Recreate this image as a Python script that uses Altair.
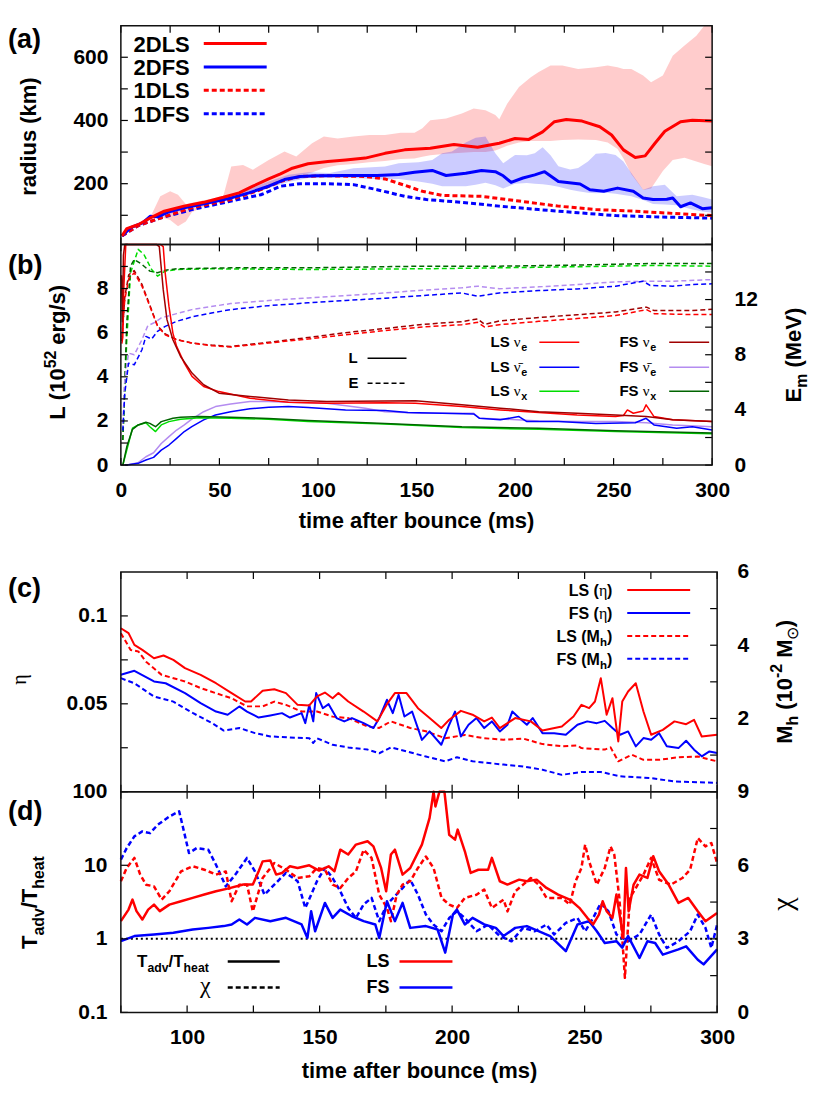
import altair as alt
import pandas as pd

# ---------------- panel (a): shock radius (km) ----------------
T_2DLS = [0.6, 3, 9, 15, 22, 32, 42, 52, 60, 67, 75, 81, 87, 95, 105, 114, 124, 134, 144, 157, 169, 181, 192, 200, 207, 214, 220, 226, 234, 243, 249, 255, 261, 266, 271, 276, 284, 290, 300]
R_2DLS = [35, 58, 71, 92, 113, 129, 141, 157, 171, 192, 215, 231, 249, 263, 270, 275, 281, 296, 307, 312, 324, 315, 328, 343, 340, 364, 396, 403, 398, 380, 354, 307, 283, 288, 328, 366, 396, 401, 398]
T_2DFS = [0.6, 5, 11, 15, 18.6, 24, 32, 44, 56, 65, 75, 83, 91, 99, 114, 130, 141, 149, 158, 165, 175, 183, 190, 194, 198, 204, 210, 215, 222, 233, 238, 245, 252, 260, 265, 270, 277, 280, 284, 289, 295, 300]
R_2DFS = [35, 61, 76, 97, 95, 110, 124, 139, 155, 171, 192, 213, 223, 225, 226, 226, 229, 236, 242, 226, 233, 242, 238, 225, 204, 218, 228, 238, 207, 199, 181, 176, 186, 176, 155, 150, 151, 155, 127, 139, 121, 124]
T_1DLS = [0.6, 9, 20.5, 36, 56, 71, 81, 91, 105, 124, 134, 144, 153, 163, 183, 202, 222, 241, 261, 280, 300]
R_1DLS = [35, 68, 92, 124, 150, 181, 207, 223, 225, 223, 215, 195, 176, 163, 160, 145, 129, 118, 113, 106, 99]
T_1DFS = [0.6, 9, 20.5, 36, 56, 71, 76, 81, 91, 105, 118, 130, 144, 155, 173, 192, 212, 232, 251, 271, 300]
R_1DFS = [35, 68, 92, 118, 145, 165, 178, 192, 200, 200, 197, 181, 160, 150, 141, 129, 118, 108, 99, 95, 91]
T_LSB = [15, 20, 25, 29, 33, 36, 46, 52, 56, 62, 67, 75, 83, 89, 97, 103, 110, 118, 126, 134, 142, 149, 153, 157, 165, 173, 179, 185, 190, 192, 196, 202, 208, 212, 218, 224, 232, 241, 247, 252, 255, 259, 265, 269, 275, 280, 286, 292, 296, 300]
HI_LSB = [95, 160, 176, 165, 135, 140, 152, 162, 254, 259, 244, 275, 302, 286, 328, 349, 343, 349, 354, 354, 361, 361, 375, 401, 406, 422, 438, 432, 417, 404, 453, 506, 537, 553, 574, 574, 563, 568, 574, 568, 563, 563, 542, 521, 542, 605, 637, 668, 700, 700]
LO_LSB = [88, 95, 85, 65, 80, 110, 138, 150, 157, 165, 180, 195, 215, 225, 235, 250, 258, 262, 268, 272, 278, 280, 285, 290, 295, 298, 300, 300, 305, 310, 320, 330, 335, 335, 335, 338, 340, 338, 330, 310, 280, 230, 180, 185, 240, 275, 282, 270, 262, 255]
T_FSB = [15, 25, 40, 55, 75, 85, 95, 106, 118, 134, 141, 151, 158, 163, 168, 175, 180, 185, 190, 194, 200, 206, 210, 214, 218, 222, 228, 232, 237, 241, 246, 251, 255, 259, 265, 270, 276, 282, 290, 295, 300]
HI_FSB = [97, 115, 140, 160, 207, 228, 236, 234, 249, 254, 265, 268, 275, 296, 302, 330, 345, 349, 296, 265, 291, 290, 296, 315, 290, 255, 245, 250, 270, 295, 297, 291, 270, 234, 181, 192, 197, 160, 165, 158, 150]
LO_FSB = [92, 105, 132, 150, 186, 205, 218, 218, 218, 213, 215, 207, 200, 192, 192, 192, 197, 203, 195, 185, 200, 202, 200, 198, 195, 190, 181, 176, 171, 170, 171, 168, 164, 160, 148, 136, 134, 132, 118, 112, 108]

# ---------------- panel (b): luminosities L and mean energies E ----------------
T_L_LSE = [0.5, 1, 1.5, 2.5, 20, 21.5, 22.5, 24.4, 26.4, 28.3, 32.2, 36.1, 42, 49.8, 65.5, 85, 104.5, 134, 149.5, 173, 192.5, 212, 231.5, 251, 255, 257, 260, 265, 266.5, 270.5, 280, 300]
L_LSE = [5.5, 5.8, 8.0, 13, 13, 9.9, 8.7, 7.2, 5.98, 5.38, 4.62, 4.02, 3.56, 3.33, 3.03, 2.85, 2.80, 2.83, 2.80, 2.65, 2.50, 2.38, 2.27, 2.20, 2.25, 2.50, 2.35, 2.45, 2.73, 2.20, 2.05, 1.97]
T_L_FSE = [0.3, 0.8, 1.3, 2, 18, 19.5, 21.5, 23.4, 26.4, 30.3, 36.1, 42, 49.8, 65.5, 85, 104.5, 134, 149.5, 173, 192.5, 212, 231.5, 251, 266.5, 280, 300]
L_FSE = [8.6, 6.5, 9.5, 13, 13, 9.9, 7.95, 6.59, 5.68, 4.92, 4.17, 3.64, 3.26, 3.11, 2.95, 2.88, 2.90, 2.92, 2.73, 2.58, 2.42, 2.35, 2.27, 2.20, 2.05, 1.97]
T_L_LSA = [2, 3, 8.8, 12.7, 16.6, 20.5, 24.4, 28.3, 32.2, 36, 42, 48, 55.7, 65.5, 75, 85, 95, 104.5, 114, 134, 145.6, 163, 179, 182, 192.5, 202, 206, 222, 241, 261, 266.5, 270.5, 282, 290, 300]
L_LSA = [0, 0, 0.08, 0.23, 0.35, 0.68, 0.91, 1.21, 1.52, 1.74, 2.05, 2.27, 2.42, 2.55, 2.62, 2.65, 2.61, 2.55, 2.50, 2.47, 2.38, 2.35, 2.32, 2.12, 2.05, 2.20, 1.97, 1.97, 1.89, 1.92, 2.12, 1.82, 1.67, 1.74, 1.59]
T_L_FSA = [2, 3, 8.8, 12.7, 16.6, 20.5, 24.4, 28.3, 32.2, 36, 42, 48, 55.7, 65.5, 75, 85, 104.5, 124, 134, 153, 179, 182, 192.5, 212, 231.5, 251, 266.5, 280, 300]
L_FSA = [0, 0, 0.11, 0.38, 0.56, 0.98, 1.29, 1.59, 1.82, 2.08, 2.42, 2.65, 2.77, 2.88, 2.88, 2.85, 2.80, 2.58, 2.42, 2.35, 2.35, 2.12, 2.09, 2.00, 1.97, 1.97, 1.92, 1.82, 1.74]
T_L_LSX = [1, 3, 5.9, 8.8, 12.7, 14.7, 17.6, 20.5, 24.4, 30.3, 40, 55.7, 75, 95, 134, 173, 212, 251, 300]
L_LSX = [0, 0.68, 1.67, 1.82, 1.92, 1.74, 1.52, 1.82, 1.97, 2.08, 2.15, 2.12, 2.08, 1.97, 1.86, 1.70, 1.62, 1.52, 1.42]
T_L_FSX = [1, 3, 5.9, 8.8, 12.7, 14.7, 17.6, 20.5, 26.4, 30.3, 40, 55.7, 75, 95, 134, 173, 212, 251, 300]
L_FSX = [0, 0.83, 1.62, 1.82, 1.94, 1.89, 1.74, 1.97, 2.12, 2.17, 2.20, 2.17, 2.11, 2.02, 1.89, 1.74, 1.67, 1.56, 1.46]
T_E_E = [0.5, 2, 4, 6.8, 10.7, 14.7, 18.6, 22.5, 28.3, 36, 46, 55.7, 75, 95, 114, 134, 153, 173, 181, 184.6, 192, 212, 231.5, 251, 266.7, 270.6, 290, 300]
E_LSE = [9.3, 12.0, 13.5, 13.94, 12.97, 11.52, 10.06, 9.45, 9.09, 8.85, 8.65, 8.56, 8.85, 9.14, 9.45, 9.75, 10.01, 10.18, 10.35, 10.01, 10.18, 10.42, 10.62, 10.84, 11.27, 10.98, 10.91, 10.91]
E_FSE = [9.0, 12.2, 13.8, 14.1, 13.1, 11.6, 10.1, 9.5, 9.1, 8.85, 8.7, 8.6, 8.9, 9.25, 9.6, 9.9, 10.2, 10.4, 10.6, 10.2, 10.45, 10.7, 10.9, 11.1, 11.45, 11.2, 11.2, 11.3]
T_E_LSA = [1, 2, 3.9, 6.8, 10.7, 12.7, 15.6, 18.6, 22.5, 28.3, 36, 46, 55.7, 75, 95, 114, 134, 153, 173, 181, 192, 212, 231.5, 251, 265, 268.5, 280, 290, 300]
E_LSA = [2.5, 5.21, 7.39, 7.27, 8.36, 9.33, 9.14, 9.70, 10.06, 10.42, 10.74, 11.03, 11.27, 11.56, 11.76, 11.93, 12.10, 12.29, 12.48, 12.24, 12.48, 12.65, 12.77, 12.97, 13.33, 13.02, 12.97, 13.09, 13.14]
T_E_FSA = [1, 2, 3.9, 6.8, 10.7, 13.7, 16.6, 20.5, 28.3, 36, 55.7, 75, 95, 114, 134, 153, 173, 181, 192, 212, 231.5, 251, 266.7, 280, 300]
E_FSA = [3.0, 6.18, 8.12, 8.0, 9.09, 10.11, 10.30, 10.67, 10.98, 11.27, 11.71, 11.93, 12.12, 12.29, 12.48, 12.68, 12.85, 12.97, 12.78, 12.92, 13.09, 13.28, 13.33, 13.33, 13.45]
T_E_LSX = [1, 3, 4.9, 8.8, 11.7, 15.6, 18.6, 22.5, 28.3, 46, 95, 153, 192, 231.5, 270.6, 300]
E_LSX = [1.82, 9.09, 13.94, 15.64, 15.27, 14.18, 13.70, 14.06, 14.18, 14.23, 14.18, 14.23, 14.30, 14.38, 14.47, 14.42]
T_E_FSX = [1, 3, 4.9, 6.8, 10.7, 14.7, 18.6, 22.5, 28.3, 55.7, 95, 153, 192, 231.5, 270.6, 300]
E_FSX = [1.82, 10.3, 14.42, 14.91, 14.55, 14.06, 13.94, 14.13, 14.23, 14.30, 14.30, 14.42, 14.42, 14.50, 14.62, 14.62]

# ---------------- panel (c): eta and M_h ----------------
T_ETA_LS = [75, 77.9, 80.1, 83.1, 87.5, 91.1, 94.8, 99.2, 105.1, 110.9, 116.8, 121.9, 124.1, 128.5, 132.9, 137.3, 141.7, 146.1, 149, 152, 154.9, 157.1, 160.8, 166.6, 171.8, 175.4, 178.4, 182.8, 187.1, 191.5, 195.9, 198.9, 203.3, 207.7, 212.1, 215, 218, 223.8, 229.7, 234.1, 241.4, 245.8, 248.8, 251.7, 253.9, 256.1, 258.3, 260.5, 262.7, 264.2, 266.4, 269.3, 272.2, 275.1, 279.5, 283.9, 288.3, 291.3, 294.2, 300]
ETA_LS = [0.0930, 0.0902, 0.0835, 0.0807, 0.0759, 0.0775, 0.0750, 0.0703, 0.0665, 0.0617, 0.0561, 0.0513, 0.0513, 0.0574, 0.0583, 0.0561, 0.0494, 0.0491, 0.0542, 0.0564, 0.0532, 0.0561, 0.0513, 0.0456, 0.0400, 0.0498, 0.0561, 0.0561, 0.0475, 0.0419, 0.0362, 0.0409, 0.0460, 0.0438, 0.0400, 0.0422, 0.0362, 0.0419, 0.0400, 0.0348, 0.0371, 0.0428, 0.0494, 0.0475, 0.0513, 0.0646, 0.0438, 0.0532, 0.0286, 0.0513, 0.0570, 0.0617, 0.0456, 0.0324, 0.0352, 0.0400, 0.0384, 0.0409, 0.0314, 0.0324]
T_ETA_FS = [75, 80.1, 87.5, 91.9, 99.2, 105.1, 110.9, 115.3, 119.7, 122.6, 127, 131.4, 135.8, 138.8, 143.2, 144.6, 146.1, 147.6, 148.7, 151.2, 153.4, 156.4, 159.3, 162.2, 166.6, 170.3, 172.5, 175.4, 177.6, 179.8, 182, 184.9, 188.6, 191.5, 195.9, 198.9, 201.1, 203.3, 206.2, 209.2, 212.1, 215, 218, 220.9, 222.7, 225.3, 228.2, 230.4, 234.1, 238.5, 242.9, 247.3, 251, 254.6, 257.6, 260.5, 263.4, 266.4, 269.3, 272.2, 275.1, 278.1, 281, 285.4, 288.3, 291.3, 294.2, 297.1, 300]
ETA_FS = [0.0665, 0.0688, 0.0627, 0.0617, 0.0561, 0.0504, 0.0456, 0.0438, 0.0485, 0.0456, 0.0422, 0.0434, 0.0447, 0.0422, 0.0447, 0.0390, 0.0494, 0.0400, 0.0561, 0.0475, 0.0498, 0.0419, 0.0400, 0.0419, 0.0390, 0.0362, 0.0419, 0.0523, 0.0447, 0.0551, 0.0428, 0.0456, 0.0295, 0.0343, 0.0267, 0.0381, 0.0456, 0.0314, 0.0381, 0.0419, 0.0362, 0.0400, 0.0343, 0.0381, 0.0456, 0.0419, 0.0381, 0.0419, 0.0333, 0.0333, 0.0324, 0.0381, 0.0400, 0.0390, 0.0403, 0.0362, 0.0324, 0.0343, 0.0258, 0.0305, 0.0295, 0.0333, 0.0258, 0.0248, 0.0290, 0.0239, 0.0201, 0.0229, 0.0220]
T_MH_LS = [75, 78.7, 81.6, 84.5, 90.4, 99.2, 105.1, 110.9, 116.8, 122.6, 128.5, 132.9, 137.3, 143.2, 149, 154.9, 160.8, 168.1, 172.5, 176.9, 184.2, 190.1, 197.4, 204.8, 212.1, 219.4, 226.8, 234.1, 241.4, 247.3, 248.8, 257.6, 259.8, 262.7, 267.8, 272.2, 278.1, 285.4, 292.7, 300]
MH_LS = [4.33, 3.87, 3.83, 3.55, 3.19, 3.01, 2.83, 2.69, 2.55, 2.33, 2.33, 2.46, 2.37, 2.19, 2.19, 2.05, 2.01, 1.78, 1.74, 1.92, 1.74, 1.65, 1.46, 1.55, 1.46, 1.42, 1.45, 1.30, 1.24, 1.26, 1.19, 1.15, 1.21, 0.83, 1.01, 0.87, 0.87, 0.94, 0.96, 0.83]
T_MH_FS = [75, 80.1, 87.5, 94.8, 102.1, 109.5, 113.8, 119.7, 125.6, 131.4, 138.8, 146.1, 147.6, 149, 154.9, 160.8, 168.1, 172.5, 176.9, 182.8, 190.1, 197.4, 201.8, 207.7, 219.4, 226.8, 234.1, 241.4, 248.8, 256.1, 263.4, 275.1, 283.9, 292.7, 300]
MH_FS = [3.10, 2.96, 2.60, 2.46, 2.15, 1.87, 1.67, 1.74, 1.60, 1.51, 1.48, 1.46, 1.33, 1.46, 1.28, 1.21, 1.15, 1.05, 1.21, 1.10, 0.96, 0.83, 0.94, 0.83, 0.74, 0.69, 0.60, 0.46, 0.54, 0.54, 0.42, 0.37, 0.28, 0.26, 0.24]

# ---------------- panel (d): T_adv/T_heat and chi ----------------
T_RT_LS = [75, 77.9, 79.4, 80.9, 83.1, 85.3, 87.5, 89.7, 93.3, 97.7, 102.1, 106.5, 110.9, 115.3, 121.2, 124.8, 127, 128.5, 131.4, 133.6, 135.8, 138.8, 141.7, 146.1, 149.8, 153.4, 155.6, 157.8, 160.8, 163.7, 168.1, 170.3, 173.2, 175.1, 176.9, 178.4, 181.3, 184.2, 188.6, 191.5, 193, 193.7, 195.2, 197.1, 198.9, 201.1, 202.1, 204.8, 207, 209.9, 213.6, 215, 218, 220.9, 225.3, 228.2, 231.9, 235.6, 240, 244.4, 248, 251, 253.2, 255.4, 256.8, 258.3, 260.5, 262, 263.4, 264.6, 265.6, 266.6, 268.5, 270.7, 273.7, 275.9, 278.1, 281.7, 285.4, 289.1, 292.7, 295.6, 300]
RT_LS = [1.74, 2.50, 3.42, 2.38, 1.83, 2.50, 2.92, 2.38, 2.92, 3.24, 3.60, 4.0, 4.44, 4.82, 5.47, 5.47, 8.3, 11.3, 11.6, 7.47, 7.87, 9.69, 9.2, 10.0, 8.47, 9.69, 8.3, 16.3, 14.0, 19.1, 21.2, 18.1, 9.2, 4.44, 14.0, 16.3, 7.47, 9.2, 19.1, 44, 130, 63, 130, 130, 26, 22.3, 30.5, 15.5, 7.87, 8.7, 8.7, 12.6, 6.07, 5.47, 6.38, 6.07, 6.38, 4.92, 4.0, 3.42, 2.64, 1.93, 1.57, 2.14, 3.24, 2.38, 1.93, 4.0, 1.93, 1.03, 9.2, 2.38, 5.47, 7.47, 6.73, 13.3, 8.3, 5.47, 3.08, 3.60, 2.38, 1.74, 2.25]
T_CHI_LS = [75, 77.2, 80.1, 82.3, 84.5, 87.5, 90.4, 93.3, 97.7, 102.1, 106.5, 110.9, 114.6, 116.8, 119.7, 122.6, 124.8, 128.5, 132.9, 137.3, 141.7, 146.1, 149, 152, 154.9, 157.8, 160.8, 163.7, 166.6, 169.6, 172.5, 175.4, 176.9, 179.1, 181.3, 184.2, 187.1, 190.1, 193, 196, 198.9, 201.8, 204.8, 209.2, 212.1, 215, 219.4, 220.9, 223.8, 226.8, 229.7, 232.6, 235.6, 241.4, 244.4, 246.6, 248.8, 250.2, 251.7, 254.6, 257.6, 259.8, 261.2, 263.1, 264.2, 265.2, 266.1, 267.1, 269.3, 272.2, 275.1, 278.1, 282.5, 286.9, 289.8, 292.7, 295.6, 297.8, 300]
CHI_LS = [5.35, 5.89, 6.30, 5.62, 5.21, 5.14, 4.60, 4.94, 5.75, 5.96, 5.82, 5.62, 5.75, 4.53, 5.21, 5.21, 4.12, 5.48, 6.09, 5.82, 5.48, 5.55, 5.89, 5.82, 5.21, 5.07, 5.48, 5.75, 6.63, 6.30, 4.80, 4.26, 3.72, 4.80, 5.21, 5.35, 5.89, 6.36, 5.89, 4.67, 4.40, 4.26, 4.67, 4.80, 5.01, 4.26, 4.60, 4.12, 4.94, 5.21, 5.48, 5.21, 4.67, 4.67, 4.40, 5.35, 5.89, 6.84, 6.16, 5.21, 5.89, 6.77, 6.43, 4.67, 3.04, 1.41, 3.04, 4.67, 5.07, 5.62, 6.30, 5.41, 5.21, 5.48, 5.82, 7.11, 6.77, 6.91, 6.09]
T_RT_FS = [75, 80.1, 87.5, 94.8, 102.1, 108, 113.8, 116.8, 119.7, 122.6, 125.6, 131.4, 137.3, 143.2, 145.4, 146.8, 148.3, 152, 154.9, 157.8, 162.2, 166.6, 171, 172.5, 175.4, 178.4, 181.3, 184.2, 190.1, 194.5, 197.4, 200.3, 201.8, 204.8, 207.7, 212.1, 216.5, 219.4, 223.8, 228.2, 232.6, 237, 242.9, 247.3, 251.7, 254.6, 257.6, 262, 264.2, 266.4, 270.7, 273.7, 276.6, 279.5, 285.4, 288.3, 292.7, 294.9, 300]
RT_FS = [0.93, 1.09, 1.15, 1.21, 1.34, 1.41, 1.49, 1.57, 1.83, 1.57, 1.93, 1.74, 1.93, 1.57, 1.03, 2.38, 1.27, 3.08, 1.93, 2.50, 2.03, 1.74, 1.57, 1.03, 3.24, 1.74, 3.08, 1.41, 1.49, 1.34, 0.65, 2.14, 2.50, 1.57, 1.93, 1.57, 1.41, 1.09, 1.41, 1.49, 1.27, 1.09, 0.68, 1.57, 1.74, 1.27, 0.88, 0.93, 0.76, 1.09, 0.55, 0.93, 0.88, 0.61, 0.72, 0.79, 0.52, 0.45, 0.72]
T_CHI_FS = [75, 77.2, 80.1, 83.1, 86, 88.9, 93.3, 97, 98.5, 100.7, 103.6, 108, 110.9, 114.6, 118.2, 122.6, 125.6, 129.2, 132.9, 137.3, 141.7, 144.6, 146.8, 149, 152, 154.9, 157.8, 160.8, 163.7, 166.6, 169.6, 172.5, 175.4, 178.4, 181.3, 184.2, 187.1, 190.1, 193, 196, 198.9, 201.8, 204.8, 209.2, 213.6, 218, 222.4, 226.8, 231.2, 235.6, 238.5, 242.9, 247.3, 250.2, 253.2, 256.1, 259, 262, 266.4, 270.7, 275.1, 278.1, 281, 285.4, 289.8, 292.7, 295.6, 297.8, 300]
CHI_FS = [6.23, 6.70, 7.18, 7.38, 7.31, 7.65, 7.99, 8.20, 7.52, 6.50, 6.70, 6.63, 6.02, 5.14, 5.62, 6.30, 5.75, 4.80, 5.21, 5.69, 5.35, 4.26, 4.80, 5.35, 5.89, 5.48, 4.94, 4.26, 3.85, 4.40, 4.67, 3.72, 4.40, 4.74, 5.07, 5.41, 4.80, 3.99, 3.58, 3.31, 3.85, 4.12, 3.85, 3.31, 3.58, 3.11, 2.90, 3.45, 3.31, 3.58, 3.18, 3.65, 3.85, 3.31, 3.85, 4.46, 4.12, 3.18, 2.90, 3.18, 3.99, 3.18, 2.63, 2.90, 3.31, 3.99, 3.45, 2.63, 3.58]
T_UNITY = [75, 300]
V_UNITY = [1, 1]

# ---------------- ticks and labels ----------------
XT_AB = [0, 25, 50, 75, 100, 125, 150, 175, 200, 225, 250, 275, 300]
XL_AB = [0, 50, 100, 150, 200, 250, 300]
XT_CD = [75, 100, 125, 150, 175, 200, 225, 250, 275, 300]
XL_CD = [100, 150, 200, 250, 300]
YT_A = [100, 200, 300, 400, 500, 600]
YL_A = [200, 400, 600]
YT_BL = [0, 1, 2, 3, 4, 5, 6, 7, 8, 9, 10]
YL_BL = [0, 2, 4, 6, 8]
YT_BR = [0, 2, 4, 6, 8, 10, 12, 14, 16]
YL_BR = [0, 4, 8, 12]
YT_CL = [0.025, 0.05, 0.075, 0.1]
YL_CL = [0.05, 0.1]
YT_CR = [1, 2, 3, 4, 5]
YL_CR = [2, 4, 6]
YT_DL = [0.1, 1, 10, 100]
YL_DL = [0.1, 1, 10, 100]
YT_DR = [0, 1.5, 3, 4.5, 6, 7.5, 9]
YL_DR = [0, 3, 6, 9]

# ---------------- styling / layout ----------------
FONT = "Liberation Sans"
SERIF = "Liberation Serif"
RED, BLUE = "#ff0000", "#0000ff"
GREEN, DGREEN = "#00dd00", "#006400"
DRED, PURPLE = "#a00000", "#b48cf0"
DASH = [5, 3]
NB = "\u00a0"
TOTAL_W, TOTAL_H = 597, 988
# panel geometry: (x-domain, width, top, height)
PA = ([0, 300], 592, 0, 219)
PB = ([0, 300], 592, 219, 221)
PC = ([75, 300], 597, 547, 220)
PD = ([75, 300], 597, 767, 221)
YD_A, YD_BL, YD_BR = [8, 700], [0, 10], [0, 16]
YD_CL, YD_CR, YD_DL, YD_DR = [0, 0.125], [0, 6], [0.1, 100], [0, 9]
ONE = [{"k": 0}]

CW = {' ': .278, NB: .278, '(': .333, ')': .333, '/': .278, '-': .333, '.': .278, ',': .278,
      'A': .722, 'D': .722, 'E': .667, 'F': .611, 'L': .611, 'M': .833, 'S': .667, 'T': .611,
      'a': .556, 'b': .611, 'c': .556, 'd': .611, 'e': .556, 'g': .611, 'h': .611, 'i': .278,
      'k': .556, 'm': .889, 'n': .611, 'o': .611, 'r': .389, 's': .556, 't': .333, 'u': .611,
      'v': .556, 'x': .556, 'f': .333}
for _d in "0123456789":
    CW[_d] = .556
CWG = {'ν': .5, 'η': .5, 'χ': .55, '⊙': .78, '\u0304': 0.0}


def sx(P):
    return alt.Scale(domain=P[0], range=[0, P[1]], nice=False, zero=False)


def sy(P, dom, log=False):
    rng = [P[2] + P[3], P[2]]
    if log:
        return alt.Scale(domain=dom, range=rng, type="log", nice=False, clamp=True)
    return alt.Scale(domain=dom, range=rng, nice=False, zero=False, clamp=True)


def curve(t, v, color, P, ydom, width, dash=None, log=False):
    kw = dict(color=color, strokeWidth=width, strokeJoin="round")
    if dash:
        kw["strokeDash"] = dash
    return alt.Chart(pd.DataFrame({"t": t, "v": v})).mark_line(**kw).encode(
        x=alt.X("t:Q", scale=sx(P), axis=None),
        y=alt.Y("v:Q", scale=sy(P, ydom, log), axis=None))


def band(t, lo, hi, color, P, ydom):
    return alt.Chart(pd.DataFrame({"t": t, "lo": lo, "hi": hi})).mark_area(
        color=color, opacity=0.2).encode(
        x=alt.X("t:Q", scale=sx(P), axis=None),
        y=alt.Y("lo:Q", scale=sy(P, ydom), axis=None),
        y2=alt.Y2("hi:Q"))


def lab_axis(values, orient, pad, offset=0, fmt=None):
    kw = dict(values=values, orient=orient, ticks=False, domain=False, grid=False, title=None,
              labelFont=FONT, labelFontSize=21, labelFontWeight="bold", labelColor="black",
              labelPadding=pad, labelOverlap=False, labelFlush=False, offset=offset)
    if fmt:
        kw["format"] = fmt
    return alt.Axis(**kw)


def xticks(vals, P, labels=None, length=7):
    d = pd.DataFrame({"t": vals})
    top, h = P[2], P[3]
    ax = lab_axis(labels, "bottom", 14, offset=-(TOTAL_H - top - h)) if labels else None
    bottom = alt.Chart(d).mark_rule(color="black", strokeWidth=1.2).encode(
        x=alt.X("t:Q", scale=sx(P), axis=ax), y=alt.value(top + h), y2=alt.value(top + h - length))
    upper = alt.Chart(d).mark_rule(color="black", strokeWidth=1.2).encode(
        x=alt.X("t:Q", scale=sx(P), axis=None), y=alt.value(top), y2=alt.value(top + length))
    return [bottom, upper]


def yticks(vals, P, ydom, side, labels=None, pad=13, fmt=None, log=False, length=7):
    d = pd.DataFrame({"v": vals})
    w = P[1]
    off = 0 if side == "left" else -(TOTAL_W - w)
    ax = lab_axis(labels, side, pad, offset=off, fmt=fmt) if labels else None
    xa, xb = (0, length) if side == "left" else (w, w - length)
    return alt.Chart(d).mark_rule(color="black", strokeWidth=1.2).encode(
        y=alt.Y("v:Q", scale=sy(P, ydom, log), axis=ax), x=alt.value(xa), x2=alt.value(xb))


def frame(P):
    return alt.Chart(alt.Data(values=ONE)).mark_rect(
        fillOpacity=0, stroke="#111111", strokeWidth=1.5).encode(
        x=alt.value(0), x2=alt.value(P[1]), y=alt.value(P[2]), y2=alt.value(P[2] + P[3]))


def text(s, x, y, size, serif=False, angle=0, align="left"):
    kw = dict(text=s.replace(" ", NB), font=SERIF if serif else FONT, fontSize=size,
              fontWeight="normal" if serif else "bold", align=align,
              baseline="alphabetic", color="black")
    if angle:
        kw["angle"] = angle
    return alt.Chart(alt.Data(values=ONE)).mark_text(**kw).encode(x=alt.value(x), y=alt.value(y))


def rich(pieces, x, y, size, align="left", angle=0):
    """Compose text with sub/superscripts from separately placed pieces."""
    meas, total = [], 0.0
    for s, kind, fam in pieces:
        fs = size * 0.72 if kind != "n" else size
        table = CWG if fam == "g" else CW
        w = sum(table.get(c, 0.56) for c in s) * fs
        meas.append((s, kind, fam, fs, total))
        total += w
    start = {"left": 0.0, "center": -total / 2, "right": -total}[align]
    out = []
    for s, kind, fam, fs, off in meas:
        stripped = s.lstrip(" ")
        lead = (len(s) - len(stripped)) * CW[" "] * fs
        a = start + off + lead
        sh = {"n": 0.0, "sub": 0.28 * size, "sup": -0.42 * size}[kind]
        if angle == 270:
            px, py = x + sh, y - a
        else:
            px, py = x + a, y + sh
        out.append(text(stripped, px, py, fs, serif=(fam == "g"), angle=angle))
    return out


def key(x1, x2, y, color, width, dash=None):
    kw = dict(color=color, strokeWidth=width)
    if dash:
        kw["strokeDash"] = dash
    return alt.Chart(alt.Data(values=ONE)).mark_rule(**kw).encode(
        x=alt.value(x1), x2=alt.value(x2), y=alt.value(y))


L = []
# ---------------- panel (a) ----------------
oy = PA[2]
L += [band(T_LSB, LO_LSB, HI_LSB, RED, PA, YD_A),
      band(T_FSB, LO_FSB, HI_FSB, BLUE, PA, YD_A),
      curve(T_1DFS, R_1DFS, BLUE, PA, YD_A, 3, DASH),
      curve(T_1DLS, R_1DLS, RED, PA, YD_A, 3, DASH),
      curve(T_2DFS, R_2DFS, BLUE, PA, YD_A, 3),
      curve(T_2DLS, R_2DLS, RED, PA, YD_A, 3)]
L += xticks(XT_AB, PA)
L += [yticks(YT_A, PA, YD_A, "left", YL_A, 13), yticks(YT_A, PA, YD_A, "right")]
L += [text("(a)", -113, oy + 22, 27)]
L += rich([("radius (km)", "n", "s")], -92 + 7, oy + 111, 22, align="center", angle=270)
for i, (name, col, dsh) in enumerate([("2DLS", RED, None), ("2DFS", BLUE, None),
                                      ("1DLS", RED, DASH), ("1DFS", BLUE, DASH)]):
    yy = oy + 18 + i * 23.4
    L += [text(name, 69, yy + 8, 22, align="right"), key(83, 146, yy, col, 3, dsh)]

# ---------------- panel (b) ----------------
oy = PB[2]
L += [curve(T_E_LSX, E_LSX, GREEN, PB, YD_BR, 1.5, DASH),
      curve(T_E_FSX, E_FSX, DGREEN, PB, YD_BR, 1.5, DASH),
      curve(T_E_FSA, E_FSA, PURPLE, PB, YD_BR, 1.5, DASH),
      curve(T_E_LSA, E_LSA, BLUE, PB, YD_BR, 1.5, DASH),
      curve(T_E_E, E_FSE, DRED, PB, YD_BR, 1.5, DASH),
      curve(T_E_E, E_LSE, RED, PB, YD_BR, 1.5, DASH),
      curve(T_L_FSA, L_FSA, PURPLE, PB, YD_BL, 1.5),
      curve(T_L_LSA, L_LSA, BLUE, PB, YD_BL, 1.5),
      curve(T_L_LSX, L_LSX, GREEN, PB, YD_BL, 1.5),
      curve(T_L_FSX, L_FSX, DGREEN, PB, YD_BL, 1.5),
      curve(T_L_LSE, L_LSE, RED, PB, YD_BL, 1.5),
      curve(T_L_FSE, L_FSE, DRED, PB, YD_BL, 1.5)]
L += xticks(XT_AB, PB, XL_AB)
L += [yticks(YT_BL, PB, YD_BL, "left", YL_BL, 13),
      yticks(YT_BR, PB, YD_BR, "right", YL_BR, 22)]
L += [text("(b)", -113, oy + 30, 27)]
L += rich([("L (10", "n", "s"), ("52", "sup", "s"), (" erg/s)", "n", "s")], -63 + 7.5, oy + 108, 22, align="center", angle=270)
L += rich([("E", "n", "s"), ("m", "sub", "s"), (" (MeV)", "n", "s")], 673 + 7.5, oy + 112, 22, align="center", angle=270)
L += rich([("time after bounce (ms)", "n", "s")], 296, oy + 284, 22, align="center")
L += [text("L", 228, oy + 119, 15), key(247, 286, oy + 114, "black", 1.5),
      text("E", 228, oy + 144, 15), key(247, 286, oy + 139, "black", 1.5, DASH)]
species = [
    ("LS ", "ν", "e", RED, 407, 419, 0), ("LS ", "ν\u0304", "e", BLUE, 407, 419, 1),
    ("LS ", "ν", "x", GREEN, 407, 419, 2), ("FS ", "ν", "e", DRED, 536, 549, 0),
    ("FS ", "ν\u0304", "e", PURPLE, 536, 549, 1), ("FS ", "ν", "x", DGREEN, 536, 549, 2)]
for pre, nu, sub, col, rx, lx, row in species:
    yy = oy + [98, 123, 147][row]
    L += rich([(pre, "n", "s"), (nu, "n", "g"), (sub, "sub", "s")], rx, yy + 5, 15, align="right")
    L += [key(lx, lx + 40, yy, col, 1.5)]

# ---------------- panel (c) ----------------
oy = PC[2]
L += [curve(T_MH_FS, MH_FS, BLUE, PC, YD_CR, 2, DASH),
      curve(T_MH_LS, MH_LS, RED, PC, YD_CR, 2, DASH),
      curve(T_ETA_FS, ETA_FS, BLUE, PC, YD_CL, 2),
      curve(T_ETA_LS, ETA_LS, RED, PC, YD_CL, 2)]
L += xticks(XT_CD, PC)
L += [yticks(YT_CL, PC, YD_CL, "left", YL_CL, 14, "~g"),
      yticks(YT_CR, PC, YD_CR, "right", YL_CR, 20)]
L += [text("(c)", -113, oy + 25, 27)]
L += rich([("η", "n", "g")], -95, oy + 108, 20, align="center", angle=270)
L += rich([("M", "n", "s"), ("h", "sub", "s"), (" (10", "n", "s"), ("-2", "sup", "s"),
           (" M", "n", "s"), ("⊙", "sub", "g"), (")", "n", "s")], 664 + 7.5, oy + 110, 22, align="center", angle=270)
for i, (pcs, col, dsh) in enumerate([
        ([("LS (", "n", "s"), ("η", "n", "g"), (")", "n", "s")], RED, None),
        ([("FS (", "n", "s"), ("η", "n", "g"), (")", "n", "s")], BLUE, None),
        ([("LS (M", "n", "s"), ("h", "sub", "s"), (")", "n", "s")], RED, DASH),
        ([("FS (M", "n", "s"), ("h", "sub", "s"), (")", "n", "s")], BLUE, DASH)]):
    yy = oy + 18 + i * 23
    L += rich(pcs, 492, yy + 6, 16, align="right")
    L += [key(507, 570, yy, col, 2, dsh)]

# ---------------- panel (d) ----------------
oy = PD[2]
L += [curve(T_UNITY, V_UNITY, "black", PD, YD_DL, 2, [2, 3], log=True),
      curve(T_CHI_FS, CHI_FS, BLUE, PD, YD_DR, 2.5, DASH),
      curve(T_CHI_LS, CHI_LS, RED, PD, YD_DR, 2.5, DASH),
      curve(T_RT_FS, RT_FS, BLUE, PD, YD_DL, 2.5, log=True),
      curve(T_RT_LS, RT_LS, RED, PD, YD_DL, 2.5, log=True)]
L += xticks(XT_CD, PD, XL_CD)
L += [yticks(YT_DL, PD, YD_DL, "left", YL_DL, 14, "~g", log=True),
      yticks(YT_DR, PD, YD_DR, "right", YL_DR, 20)]
L += [text("(d)", -113, oy + 28, 27)]
L += rich([("T", "n", "s"), ("adv", "sub", "s"), ("/T", "n", "s"), ("heat", "sub", "s")],
          -91 + 7.5, oy + 111, 22, align="center", angle=270)
L += rich([("χ", "n", "g")], 669 + 3, oy + 111, 30, align="center", angle=270)
L += rich([("time after bounce (ms)", "n", "s")], 299, oy + 287, 22, align="center")
L += rich([("T", "n", "s"), ("adv", "sub", "s"), ("/T", "n", "s"), ("heat", "sub", "s")], 88, oy + 176, 17, align="right")
L += [key(107, 159, oy + 170, "black", 2.5)]
L += [text("χ", 90, oy + 202, 24, serif=True, align="right"), key(107, 159, oy + 196, "black", 2.5, DASH)]
L += [text("LS", 269, oy + 176, 18, align="right"), key(279, 332, oy + 170, RED, 2.5),
      text("FS", 269, oy + 202, 18, align="right"), key(279, 332, oy + 196, BLUE, 2.5)]

# frames on top
L += [frame(PA), frame(PB), frame(PC), frame(PD)]

chart = alt.layer(*L).resolve_scale(x="independent", y="independent").resolve_axis(
    x="independent", y="independent").properties(
    width=TOTAL_W, height=TOTAL_H,
    autosize=alt.AutoSizeParams(type="none"),
    padding={"left": 113, "top": 17, "right": 105, "bottom": 80}, background="white"
).configure_view(strokeWidth=0)

chart.save("out.html", embed_options={"renderer": "svg", "actions": False})
